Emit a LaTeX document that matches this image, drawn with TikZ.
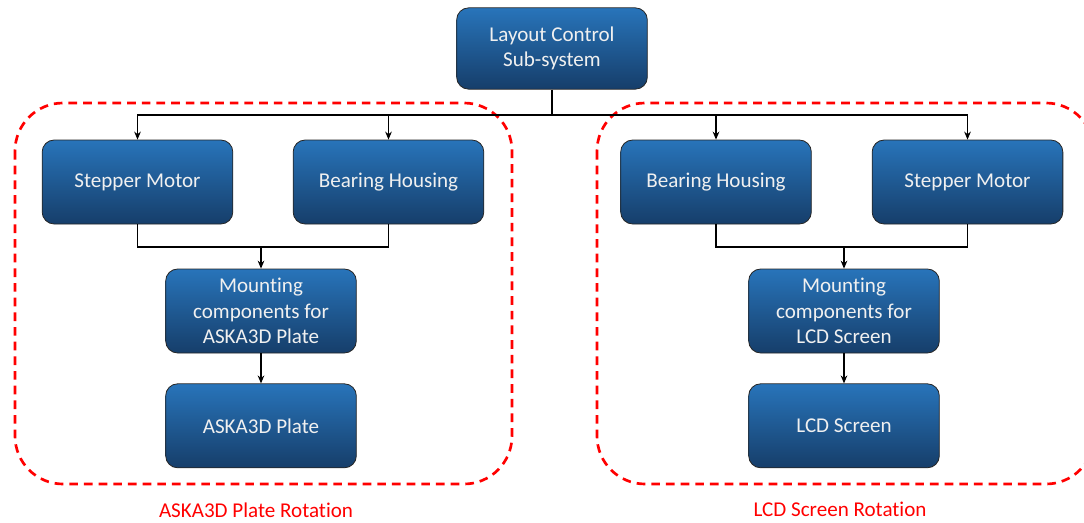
\documentclass[tikz,border=0pt]{standalone}
\usepackage{fontspec}
\setmainfont{Carlito}[Ligatures=NoCommon]
\usetikzlibrary{positioning}
\usetikzlibrary{arrows.meta}

\definecolor{blockTop}{RGB}{40,116,186}
\definecolor{blockBot}{RGB}{22,62,106}
\definecolor{groupRed}{RGB}{255,0,0}

\tikzset{
  block/.style={draw=black!85, line width=0.6pt, rounded corners=9pt,
    top color=blockTop, bottom color=blockBot, text=white!94!black,
    minimum width=143pt, minimum height=63pt, align=center,
    font=\fontsize{15.8}{19}\selectfont},
  link/.style={draw=black, line width=0.9pt},
  arr/.style={link, -{Stealth[length=6pt,width=5pt]}},
  group/.style={draw=groupRed, line width=2pt, dash pattern=on 6.5pt off 4.5pt, rounded corners=36pt},
  grouplabel/.style={text=groupRed, font=\fontsize{15.8}{18}\selectfont}
}

\begin{document}
\begin{tikzpicture}[x=0.75pt, y=-0.75pt, node distance=22.5pt]
	\useasboundingbox (0,0) rectangle (1084,522);
	\clip (0,0) rectangle (1084,522);
	% dashed groups
	\draw[group] (15,103) rectangle (512,484);
	\draw[group] (597,103) rectangle (1094,484);
	\node[grouplabel] (lblL) at (256,510) {ASKA3D Plate Rotation};
	\node[grouplabel] (lblR) at (840,509) {LCD Screen Rotation};
	% blocks
	\node[block, minimum height=61pt] (top) at (552,48.5) {Layout Control\\Sub-system};
	\node[block] (smL) at (137.5,182) {Stepper Motor};
	\node[block] (bhL) at (388.5,182) {Bearing Housing};
	\node[block] (bhR) at (716,182) {Bearing Housing};
	\node[block] (smR) at (967.5,182) {Stepper Motor};
	\node[block] (mtL) at (261,311) {Mounting\\components for\\ASKA3D Plate};
	\node[block] (mtR) at (844,311) {Mounting\\components for\\LCD Screen};
	\node[block, below=of mtL] (plL) {ASKA3D Plate};
	\node[block, below=of mtR] (lcR) {LCD Screen};
	% connectors
	\coordinate (bus) at (552,115);
	\coordinate (joinL) at (261,247);
	\coordinate (joinR) at (844,247);
	\draw[link] (top.south) -- (bus);
	\draw[arr] (bus) -| (smL.north);
	\draw[arr] (bus) -| (bhL.north);
	\draw[arr] (bus) -| (bhR.north);
	\draw[arr] (bus) -| (smR.north);
	\draw[link] (smL.south) |- (joinL);
	\draw[link] (bhL.south) |- (joinL);
	\draw[arr] (joinL) -- (mtL.north);
	\draw[link] (bhR.south) |- (joinR);
	\draw[link] (smR.south) |- (joinR);
	\draw[arr] (joinR) -- (mtR.north);
	\draw[arr] (mtL) -- (plL);
	\draw[arr] (mtR) -- (lcR);
\end{tikzpicture}
\end{document}
